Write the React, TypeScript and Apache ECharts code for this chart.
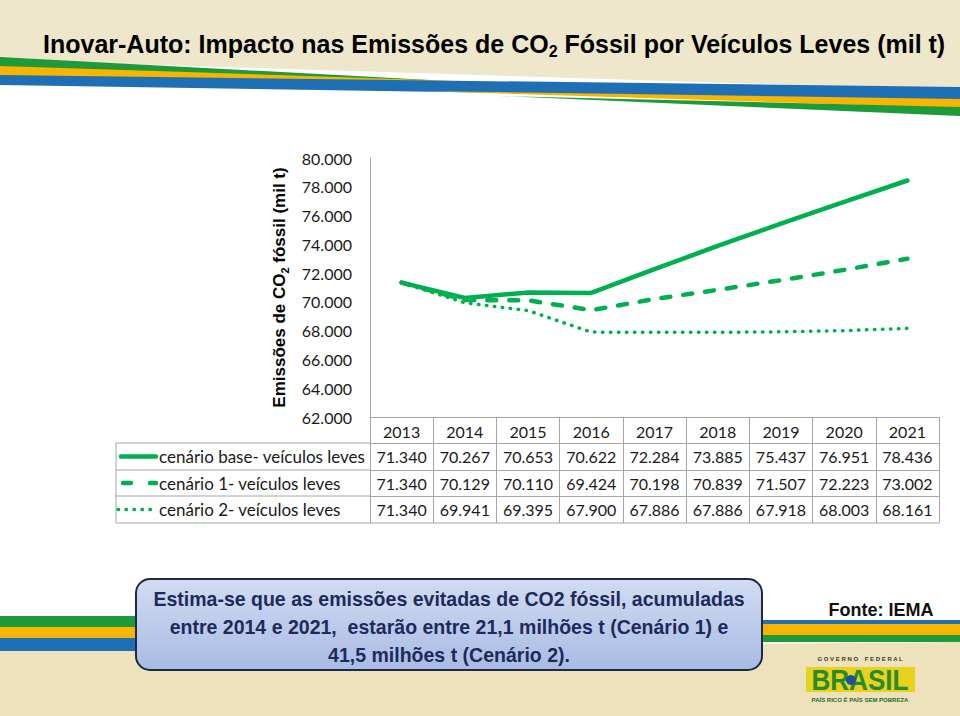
import React, { useEffect, useRef } from "react";
import * as echarts from "echarts";

const years = ["2013", "2014", "2015", "2016", "2017", "2018", "2019", "2020", "2021"];
const baseScenario = [71340, 70267, 70653, 70622, 72284, 73885, 75437, 76951, 78436];
const scenario1 = [71340, 70129, 70110, 69424, 70198, 70839, 71507, 72223, 73002];
const scenario2 = [71340, 69941, 69395, 67900, 67886, 67886, 67918, 68003, 68161];
const seriesNames = [
  "cenário base- veículos leves",
  "cenário 1- veículos leves",
  "cenário 2- veículos leves",
];
const yMin = 62000;
const yMax = 80000;
const yStep = 2000;

const titleText = "{n|Inovar-Auto: Impacto nas Emissões de CO}{s|2}{n| Fóssil por Veículos Leves (mil t)}";
const yName = "{n|Emissões de CO}{s|2}{n| fóssil (mil t)}";
const boxText =
  "Estima-se que as emissões evitadas de CO2 fóssil, acumuladas\nentre 2014 e 2021,  estarão entre 21,1 milhões t (Cenário 1) e\n41,5 milhões t (Cenário 2).";
const sourceText = "Fonte: IEMA";

const fmt = (v: number) => (v / 1000).toFixed(3);

const GREEN = "#00B050";
const GRIDC = "#a6a6a6";
const TXT = "#1a1a1a";
const NUMFONT = "Lato";
const ARIAL = "'Liberation Sans', Arial, sans-serif";

const L = 370;
const R = 939;
const T = 158;
const AX = 417;
const rowTops = [443, 470, 496];
const tableBottom = 523;
const tableLeft = 116;

const lineStyles: any[] = [
  { width: 4.5, type: "solid", cap: "round" },
  { width: 4.5, type: [9, 13], cap: "round" },
  { width: 3.5, type: [0.5, 7.5], cap: "round" },
];
const keyDash: any[] = [null, [8, 19], [0.5, 7.5]];

export default function App() {
  const ref = useRef<HTMLDivElement>(null);
  useEffect(() => {
    if (!ref.current) return;
    const chart = echarts.init(ref.current, null, { renderer: "svg" });
    const seriesData = [baseScenario, scenario1, scenario2];

    const rowAxes = seriesData.map((vals, k) => ({
      type: "category",
      data: years,
      position: "bottom",
      offset: rowTops[k] - AX,
      boundaryGap: true,
      axisLine: { show: true, lineStyle: { color: GRIDC, width: 1 } },
      axisTick: { show: true, length: (k === 0 ? rowTops[1] : k === 1 ? rowTops[2] : tableBottom) - rowTops[k], interval: 0, lineStyle: { color: GRIDC } },
      axisLabel: {
        interval: 0,
        margin: 5,
        fontFamily: NUMFONT,
        fontSize: 16,
        color: TXT,
        formatter: (_: string, i: number) => fmt(vals[i]),
      },
      splitLine: { show: false },
    }));

    const g: any[] = [];
    const poly = (pts: number[][], fill: string) => g.push({ type: "polygon", shape: { points: pts }, style: { fill }, silent: true });
    // top banner
    poly([[0, 0], [960, 0], [960, 90], [0, 60]], "#efe7cb");
    poly([[0, 57], [430, 80], [430, 81], [0, 67]], "#1f9a3a");
    poly([[0, 66], [520, 83], [0, 76]], "#f7b500");
    poly([[0, 75], [960, 87], [960, 100], [0, 85]], "#1f6fb5");
    poly([[420, 91], [960, 99], [960, 108]], "#f7b500");
    poly([[500, 96], [960, 107], [960, 116]], "#1f9a3a");
    // bottom band
    poly([[0, 651], [960, 642], [960, 716], [0, 716]], "#ede2bb");
    poly([[0, 616], [140, 616], [140, 627], [0, 627]], "#1f9a3a");
    poly([[0, 627], [140, 627], [140, 638], [0, 638]], "#f7b500");
    poly([[0, 638], [140, 638], [140, 651], [0, 651]], "#1f6fb5");
    poly([[755, 620], [960, 620], [960, 624], [755, 624]], "#1f6fb5");
    poly([[755, 624], [960, 624], [960, 635], [755, 635]], "#f7b500");
    poly([[755, 635], [960, 635], [960, 642], [755, 642]], "#1f9a3a");

    // title
    g.push({
      type: "text",
      x: 43,
      y: 44,
      silent: true,
      style: {
        text: titleText,
        verticalAlign: "middle",
        align: "left",
        rich: {
          n: { fontFamily: ARIAL, fontWeight: "bold", fontSize: 25, fill: "#000", lineHeight: 30, verticalAlign: "middle" },
          s: { fontFamily: ARIAL, fontWeight: "bold", fontSize: 16, fill: "#000", lineHeight: 30, verticalAlign: "bottom" },
        },
      },
    });

    // table left column
    const hl = (x1: number, y: number, x2: number) =>
      g.push({ type: "line", shape: { x1, y1: y, x2, y2: y }, style: { stroke: GRIDC, lineWidth: 1 }, silent: true });
    rowTops.forEach((y) => hl(tableLeft, y, L));
    hl(tableLeft, tableBottom, R);
    g.push({ type: "line", shape: { x1: tableLeft, y1: rowTops[0], x2: tableLeft, y2: tableBottom }, style: { stroke: GRIDC, lineWidth: 1 }, silent: true });

    seriesNames.forEach((name, k) => {
      const yc = (rowTops[k] + (k < 2 ? rowTops[k + 1] : tableBottom)) / 2;
      const ls = lineStyles[k];
      g.push({
        type: "line",
        shape: { x1: k === 2 ? 118 : k === 1 ? 123 : 121, y1: yc, x2: 156, y2: yc },
        style: { stroke: GREEN, lineWidth: ls.width, lineDash: keyDash[k], lineCap: ls.cap },
        silent: true,
      });
      g.push({
        type: "text",
        x: 159,
        y: yc,
        silent: true,
        style: { text: name, fontFamily: NUMFONT, fontSize: 17, fill: TXT, verticalAlign: "middle", align: "left" },
      });
    });

    // box
    g.push({
      type: "rect",
      shape: { x: 136, y: 579, width: 626, height: 91, r: 14 },
      silent: true,
      style: {
        fill: new echarts.graphic.LinearGradient(0, 0, 0, 1, [
          { offset: 0, color: "#d2dcf2" },
          { offset: 1, color: "#a8bbe4" },
        ]),
        stroke: "#1c2947",
        lineWidth: 2,
      },
    });
    g.push({
      type: "text",
      x: 449,
      y: 627,
      scaleX: 0.93,
      silent: true,
      style: {
        text: boxText,
        fontFamily: ARIAL,
        fontWeight: "bold",
        fontSize: 21,
        lineHeight: 28,
        fill: "#1d2a5a",
        align: "center",
        verticalAlign: "middle",
      },
    });
    g.push({
      type: "text",
      x: 881,
      y: 610,
      silent: true,
      style: { text: sourceText, fontFamily: ARIAL, fontWeight: "bold", fontSize: 18, fill: "#111", align: "center", verticalAlign: "middle" },
    });
    // logo
    g.push({
      type: "text",
      x: 860,
      y: 659,
      silent: true,
      style: { text: "G O V E R N O    F E D E R A L", fontFamily: ARIAL, fontWeight: "bold", fontSize: 6, fill: "#3a3a2a", align: "center", verticalAlign: "middle" },
    });
    g.push({ type: "rect", shape: { x: 806, y: 667, width: 109, height: 25 }, style: { fill: "#e8d21c" }, silent: true });
    g.push({
      type: "text",
      x: 860,
      y: 680,
      scaleX: 0.9,
      silent: true,
      style: { text: "BRASIL", fontFamily: ARIAL, fontWeight: "bold", fontSize: 29, fill: "#2a8a2e", align: "center", verticalAlign: "middle" },
    });
    g.push({ type: "circle", shape: { cx: 851, cy: 680, r: 5 }, style: { fill: "#1f4fa0" }, silent: true });
    g.push({
      type: "text",
      x: 860,
      y: 700,
      silent: true,
      style: { text: "PAÍS RICO É PAÍS SEM POBREZA", fontFamily: ARIAL, fontWeight: "bold", fontSize: 6, fill: "#1f6a2a", align: "center", verticalAlign: "middle" },
    });

    const option: any = {
      animation: false,
      backgroundColor: "#ffffff",
      grid: { left: L, right: 960 - R, top: T, bottom: 716 - AX, containLabel: false },
      xAxis: [
        {
          type: "category",
          data: years,
          position: "bottom",
          boundaryGap: true,
          axisLine: { show: true, lineStyle: { color: GRIDC, width: 1 } },
          axisTick: { show: true, length: rowTops[0] - AX, interval: 0, lineStyle: { color: GRIDC } },
          axisLabel: { interval: 0, margin: 6, fontFamily: NUMFONT, fontSize: 16, color: TXT },
          splitLine: { show: false },
        },
        ...rowAxes,
      ],
      yAxis: {
        type: "value",
        min: yMin,
        max: yMax,
        interval: yStep,
        name: yName,
        nameLocation: "middle",
        nameRotate: 90,
        nameGap: 74,
        nameTextStyle: {
          rich: {
            n: { fontFamily: ARIAL, fontWeight: "bold", fontSize: 17, color: "#000", lineHeight: 22, verticalAlign: "middle" },
            s: { fontFamily: ARIAL, fontWeight: "bold", fontSize: 11, color: "#000", lineHeight: 22, verticalAlign: "bottom" },
          },
        },
        axisLine: { show: true, lineStyle: { color: GRIDC, width: 1 } },
        axisTick: { show: false },
        splitLine: { show: false },
        axisLabel: { margin: 18, fontFamily: NUMFONT, fontSize: 16, color: TXT, formatter: (v: number) => fmt(v) },
      },
      series: seriesData.map((d, k) => ({
        name: seriesNames[k],
        type: "line",
        data: d,
        xAxisIndex: 0,
        showSymbol: false,
        symbol: "none",
        lineStyle: { color: GREEN, width: lineStyles[k].width, type: lineStyles[k].type, cap: lineStyles[k].cap, join: "round" },
        z: 3,
      })),
      graphic: { elements: g },
    };
    chart.setOption(option);
    return () => chart.dispose();
  }, []);
  return <div ref={ref} style={{ position: "fixed", left: 0, top: 0, width: 960, height: 716 }} />;
}
